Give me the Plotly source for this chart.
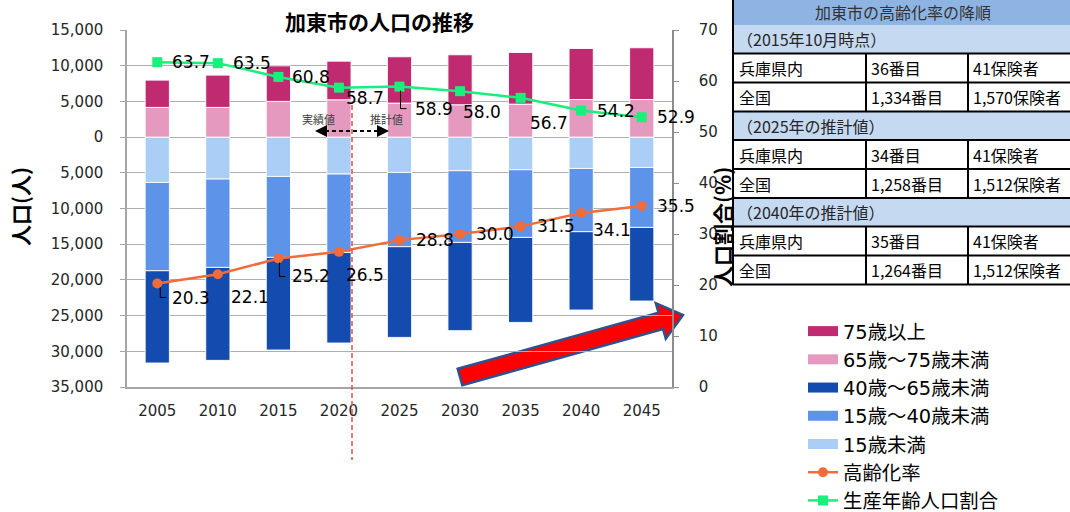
import plotly.graph_objects as go

# ---------------- data ----------------
years = [2005, 2010, 2015, 2020, 2025, 2030, 2035, 2040, 2045]
pop_75_plus = [3820, 4520, 4980, 5410, 6490, 7000, 7230, 7140, 7240]
pop_65_74 = [4160, 4160, 5000, 5230, 4760, 4530, 4620, 5270, 5270]
pop_40_64 = [12920, 13020, 12970, 12690, 12700, 12360, 11900, 10970, 10310]
pop_15_39 = [12370, 12370, 11340, 10970, 10400, 10040, 9480, 8860, 8400]
pop_under15 = [6350, 5880, 5510, 5180, 4950, 4710, 4570, 4390, 4250]
aging_rate = [20.3, 22.1, 25.2, 26.5, 28.8, 30.0, 31.5, 34.1, 35.5]
working_age_ratio = [63.7, 63.5, 60.8, 58.7, 58.9, 58.0, 56.7, 54.2, 52.9]

left_tick_values = [15000, 10000, 5000, 0, -5000, -10000, -15000, -20000, -25000, -30000, -35000]
left_tick_labels = ["15,000", "10,000", "5,000", "0", "5,000", "10,000", "15,000",
                    "20,000", "25,000", "30,000", "35,000"]

series_names = ["75歳以上", "65歳～75歳未満", "40歳～65歳未満", "15歳～40歳未満", "15歳未満",
                "高齢化率", "生産年齢人口割合"]

table_title = "加東市の高齢化率の降順"
table_sections = ["（2015年10月時点）", "（2025年の推計値）", "（2040年の推計値）"]
table_rows = [
    [["兵庫県内", "36番目", "41保険者"], ["全国", "1,334番目", "1,570保険者"]],
    [["兵庫県内", "34番目", "41保険者"], ["全国", "1,258番目", "1,512保険者"]],
    [["兵庫県内", "35番目", "41保険者"], ["全国", "1,264番目", "1,512保険者"]],
]

# ---------------- styles ----------------
W, H = 1070, 512
L, R, T, B = 127, 672, 30, 387
def px(x):
    return (x - L) / (R - L)
def py(y):
    return (B - y) / (B - T)

NUM_FONT = "DejaVu Sans, Noto Sans CJK JP"
JP_FONT = "Noto Sans CJK JP, DejaVu Sans"
C75, C65, C40, C15, C0 = "#C02A70", "#E699BE", "#134BAF", "#5D93E9", "#AACEF6"
ORANGE, GREEN = "#F26B3A", "#17F07B"

# label offsets (pixels) for data labels
green_off = [(13, 0), (13, 0), (12, 0), (5, -10), (13, -22), (1, -21), (7, -25), (14, 0), (13, 0)]
orange_off = [(13, -15), (11, -23), (12, -18), (5, -23), (14, 0), (14, 0), (14, 0), (10, -17), (13, 0)]

fig = go.Figure()
bar_line = dict(color="rgba(255,255,255,0.9)", width=1)
bar_specs = [(pop_under15, -1, 4, C0), (pop_15_39, -1, 3, C15), (pop_40_64, -1, 2, C40),
             (pop_65_74, 1, 1, C65), (pop_75_plus, 1, 0, C75)]
for vals, sign, idx, col in bar_specs:
    fig.add_trace(go.Bar(x=years, y=[sign * v for v in vals], name=series_names[idx],
                         marker=dict(color=col, line=bar_line), showlegend=False))

# legend entries for the bar series (wide rectangle swatches)
for idx, col in enumerate([C75, C65, C40, C15, C0]):
    fig.add_trace(go.Scatter(x=[None], y=[None], mode="lines", name=series_names[idx],
                             line=dict(color=col, width=12), legendrank=idx + 1, hoverinfo="skip"))

fig.add_trace(go.Scatter(x=years, y=aging_rate, name=series_names[5], yaxis="y2", mode="lines+markers",
                         line=dict(color=ORANGE, width=2.5), marker=dict(symbol="circle", size=10, color=ORANGE),
                         legendrank=6))
fig.add_trace(go.Scatter(x=years, y=working_age_ratio, name=series_names[6], yaxis="y2", mode="lines+markers",
                         line=dict(color=GREEN, width=2.5), marker=dict(symbol="square", size=10, color=GREEN),
                         legendrank=7))

annotations = []
shapes = []

# data labels
for yr, v, (dx, dy) in zip(years, working_age_ratio, green_off):
    annotations.append(dict(x=yr, y=v, xref="x", yref="y2", text=f"{v:.1f}", showarrow=False,
                            xanchor="left", yanchor="middle", xshift=dx, yshift=dy,
                            font=dict(family=NUM_FONT, size=17, color="#000000")))
for yr, v, (dx, dy) in zip(years, aging_rate, orange_off):
    annotations.append(dict(x=yr, y=v, xref="x", yref="y2", text=f"{v:.1f}", showarrow=False,
                            xanchor="left", yanchor="middle", xshift=dx, yshift=dy,
                            font=dict(family=NUM_FONT, size=17, color="#000000")))

# leader lines
leaders = [(years[0], aging_rate[0], "M 3,-4 L 3,-14 L 9,-14"),
           (years[2], aging_rate[2], "M 1,-4 L 1,-18 L 7,-18"),
           (years[4], working_age_ratio[4], "M 1,-4 L 1,-22 L 7,-22")]
for xa, ya, path in leaders:
    shapes.append(dict(type="path", xref="x", yref="y2", xsizemode="pixel", ysizemode="pixel",
                       xanchor=xa, yanchor=ya, path=path, line=dict(color="#000000", width=1)))

# title and axis titles
annotations.append(dict(x=px(379), y=py(21), xref="paper", yref="paper", text="<b>加東市の人口の推移</b>",
                        showarrow=False, xanchor="center", yanchor="middle",
                        font=dict(family=JP_FONT, size=21, color="#000000")))
annotations.append(dict(x=px(20), y=py(207), xref="paper", yref="paper", text="<b>人口(人)</b>",
                        showarrow=False, textangle=-90, xanchor="center", yanchor="middle",
                        font=dict(family=JP_FONT, size=21, color="#000000")))
annotations.append(dict(x=px(722), y=py(227), xref="paper", yref="paper", text="<b>人口割合(%)</b>",
                        showarrow=False, textangle=-90, xanchor="center", yanchor="middle",
                        font=dict(family=JP_FONT, size=21, color="#000000")))

# 実績値 / 推計値
annotations.append(dict(x=px(318), y=py(109), xref="paper", yref="paper", text="実績値", showarrow=False,
                        font=dict(family=JP_FONT, size=11, color="#404040")))
annotations.append(dict(x=px(386), y=py(109), xref="paper", yref="paper", text="推計値", showarrow=False,
                        font=dict(family=JP_FONT, size=11, color="#404040")))
shapes.append(dict(type="line", xref="paper", yref="paper", x0=px(325), x1=px(379), y0=py(131), y1=py(131),
                   line=dict(color="#000000", width=2, dash="4px,3px"), layer="above"))
shapes.append(dict(type="path", xref="paper", yref="paper", fillcolor="#000000", line=dict(width=0),
                   path=f"M {px(315)},{py(131)} L {px(327)},{py(125)} L {px(327)},{py(137)} Z", layer="above"))
shapes.append(dict(type="path", xref="paper", yref="paper", fillcolor="#000000", line=dict(width=0),
                   path=f"M {px(389)},{py(131)} L {px(377)},{py(125)} L {px(377)},{py(137)} Z", layer="above"))

# vertical dashed separator
shapes.append(dict(type="line", xref="paper", yref="paper", x0=px(352), x1=px(352), y0=py(105), y1=py(460),
                   line=dict(color="#D9534F", width=1.5, dash="5px,3px"), layer="above"))

# big red arrow
arrow_pts = [(457.7, 368.8), (658.5, 312.7), (655.8, 303.1), (683, 315), (665.8, 338.7), (663.1, 329.1), (462.3, 385.2)]
arrow_path = "M " + " L ".join(f"{px(a)},{py(b)}" for a, b in arrow_pts) + " Z"
shapes.append(dict(type="path", xref="paper", yref="paper", path=arrow_path, fillcolor="#FF0000",
                   line=dict(color="#2F528F", width=2.5), layer="below"))

# ---------------- table ----------------
TX0, TX1 = 733, 1070
COL1, COL2 = 866, 968
shapes.append(dict(type="rect", xref="paper", yref="paper", x0=px(TX0), x1=px(TX1), y0=py(0), y1=py(25),
                   fillcolor="#8DB4E2", line=dict(width=0), layer="above"))
annotations.append(dict(x=px(903), y=py(12), xref="paper", yref="paper", text=table_title, showarrow=False,
                        xanchor="center", yanchor="middle", font=dict(family=JP_FONT, size=16, color="#333333")))
y = 25
hlines = []
for s, sec in enumerate(table_sections):
    y0 = y
    y1 = y0 + 28.5
    shapes.append(dict(type="rect", xref="paper", yref="paper", x0=px(TX0), x1=px(TX1), y0=py(y0), y1=py(y1),
                       fillcolor="#C5D9F1", line=dict(width=0), layer="above"))
    annotations.append(dict(x=px(735), y=py((y0 + y1) / 2), xref="paper", yref="paper", text=sec, showarrow=False,
                            xanchor="left", yanchor="middle", font=dict(family=JP_FONT, size=16, color="#262626")))
    hlines.append(y1)
    ry = y1
    for row in table_rows[s]:
        ry2 = ry + 29
        for cx, txt in zip([737, 869, 971], row):
            annotations.append(dict(x=px(cx), y=py((ry + ry2) / 2), xref="paper", yref="paper", text=txt,
                                    showarrow=False, xanchor="left", yanchor="middle",
                                    font=dict(family=JP_FONT, size=16, color="#000000")))
        for cx in [COL1, COL2]:
            shapes.append(dict(type="line", xref="paper", yref="paper", x0=px(cx), x1=px(cx), y0=py(ry), y1=py(ry2),
                               line=dict(color="#000000", width=2), layer="above"))
        hlines.append(ry2)
        ry = ry2
    y = ry
for hy in hlines:
    shapes.append(dict(type="line", xref="paper", yref="paper", x0=px(TX0), x1=px(TX1), y0=py(hy), y1=py(hy),
                       line=dict(color="#000000", width=2), layer="above"))
shapes.append(dict(type="line", xref="paper", yref="paper", x0=px(TX0), x1=px(TX0), y0=py(0), y1=py(hlines[-1]),
                   line=dict(color="#000000", width=2), layer="above"))

fig.update_layout(
    width=W, height=H,
    margin=dict(l=L, r=W - R, t=T, b=H - B, autoexpand=False),
    paper_bgcolor="#FFFFFF", plot_bgcolor="#FFFFFF",
    barmode="relative", bargap=0.6,
    showlegend=True,
    legend=dict(x=px(803), y=py(312), xanchor="left", yanchor="top", traceorder="normal",
                font=dict(family=NUM_FONT, size=19.4, color="#000000"), bgcolor="rgba(0,0,0,0)",
                itemwidth=30, tracegroupgap=0),
    xaxis=dict(range=[2002.5, 2047.5], tickvals=years, ticktext=[str(v) for v in years],
               showgrid=False, showline=True, linecolor="#A6A6A6", linewidth=1.5, ticks="", zeroline=False,
               ticklabelstandoff=9,
               tickfont=dict(family=NUM_FONT, size=15, color="#262626")),
    yaxis=dict(range=[-35000, 15000], tickvals=left_tick_values, ticktext=left_tick_labels,
               showgrid=True, gridcolor="#AFAFAF", gridwidth=1, showline=True, linecolor="#A6A6A6", linewidth=1.5,
               ticks="outside", ticklen=5, tickcolor="#A6A6A6", zeroline=False, ticklabelstandoff=14,
               tickfont=dict(family=NUM_FONT, size=15, color="#262626")),
    yaxis2=dict(range=[0, 70], dtick=10, overlaying="y", side="right", showgrid=False, showline=True,
                linecolor="#8C8C8C", linewidth=1.5, ticks="outside", ticklen=5, tickcolor="#8C8C8C", zeroline=False,
                ticklabelstandoff=17, tickfont=dict(family=NUM_FONT, size=15, color="#262626")),
    annotations=annotations,
    shapes=shapes,
)

fig.write_html("out.html", config={"displayModeBar": False},
               post_script="document.body.style.margin='0px';")
